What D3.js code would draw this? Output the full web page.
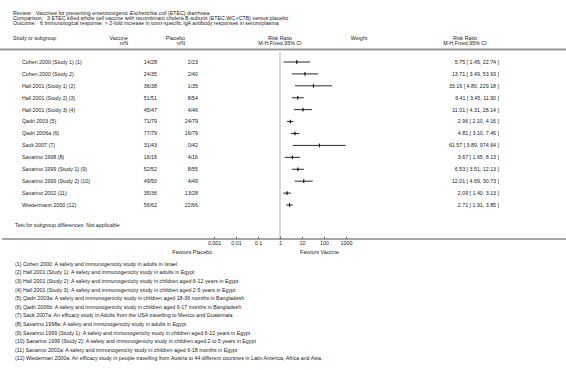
<!DOCTYPE html>
<html>
<head>
<meta charset="utf-8">
<script src="https://cdn.jsdelivr.net/npm/d3@7"></script>
<style>
  html, body { margin: 0; padding: 0; background: #fff; }
  svg { display: block; }
  text { font-family: "Liberation Sans", Arial, Helvetica, sans-serif; font-size: 5.3px; fill: #222; }
</style>
</head>
<body>
<div id="chart"></div>
<script>
// forest plot - ETEC WC-rCTB vs placebo, IgA response

const studies = [
  'Cohen 2000 (Study 1) (1)', 'Cohen 2000 (Study 2)', 'Hall 2001 (Study 1) (2)',
  'Hall 2001 (Study 2) (3)', 'Hall 2001 (Study 3) (4)', 'Qadri 2003 (5)',
  'Qadri 2006a (6)', 'Sack 2007 (7)', 'Savarino 1998 (8)',
  'Savarino 1999 (Study 1) (9)', 'Savarino 1999 (Study 2) (10)',
  'Savarino 2002 (11)', 'Wiedermann 2000 (12)'
];
const vaccineNN = ['14/28', '24/35', '36/38', '51/51', '45/47', '71/79', '77/79',
  '31/43', '16/16', '52/52', '49/50', '35/36', '56/62'];
const placeboNN = ['2/23', '2/40', '1/35', '8/54', '4/46', '24/79', '16/79',
  '0/42', '4/16', '8/55', '4/49', '13/28', '22/66'];
const rr   = [5.75, 13.71, 33.16, 6.41, 11.01, 2.96, 4.81, 61.57, 3.67, 6.53, 12.01, 2.09, 2.71];
const low  = [1.45, 3.49, 4.80, 3.45, 4.31, 2.10, 3.10, 3.89, 1.65, 3.51, 4.69, 1.40, 1.91];
const high = [22.74, 53.93, 229.18, 11.90, 28.14, 4.16, 7.46, 974.64, 8.13, 12.13, 30.73, 3.13, 3.85];
const tickValues = [0.001, 0.01, 0.1, 1, 10, 100, 1000];
const tickLabels = ['0.001', '0.01', '0.1', '1', '10', '100', '1000'];

const titleLines = [
  ['Review:', 'Vaccines for preventing enterotoxigenic ', 'Escherichia coli', ' (ETEC) diarrhoea'],
  ['Comparison:', '3 ETEC killed whole cell vaccine with recombinant cholera B-subunit (ETEC WC-rCTB) versus placebo'],
  ['Outcome:', '6 Immunological response: > 2-fold increase in toxin-specific IgA antibody responses in serum/plasma']
];
const footnotes = [
  '(1) Cohen 2000: A safety and immunogenicity study in adults in Israel',
  '(2) Hall 2001 (Study 1): A safety and immunogenicity study in adults in Egypt',
  '(3) Hall 2001 (Study 2): A safety and immunogenicity study in children aged 6-12 years in Egypt',
  '(4) Hall 2001 (Study 3): A safety and immunogenicity study in children aged 2-5 years in Egypt',
  '(5) Qadri 2003a: A safety and immunogenicity study in children aged 18-36 months in Bangladesh',
  '(6) Qadri 2006b: A safety and immunogenicity study in children aged 6-17 months in Bangladesh',
  '(7) Sack 2007a: An efficacy study in Adults from the USA travelling to Mexico and Guatemala',
  '(8) Savarino 1998a: A safety and immunogenicity study in adults in Egypt',
  '(9) Savarino 1999 (Study 1): A safety and immunogenicity study in children aged 6-12 years in Egypt',
  '(10) Savarino 1999 (Study 2): A safety and immunogenicity study in children aged 2 to 5 years in Egypt',
  '(11) Savarino 2002a: A safety and immunogenicity study in children aged 6-18 months in Egypt',
  '(12) Wiederman 2000a: An efficacy study in people travelling from Austria to 44 different countries in Latin America, Africa and Asia.'
];

const W = 566, H = 370;
const svg = d3.select('#chart').append('svg')
  .attr('width', W).attr('height', H)
  .attr('viewBox', [0, 0, W, H]);

const x = d3.scaleLog().domain([0.001, 1000]).range([214, 346]);
const y = d3.scalePoint().domain(studies).range([62, 205]);
const axisY = 239;

// title block
titleLines.forEach((line, i) => {
  const t = svg.append('text').attr('x', 13).attr('y', 13 + i * 5.2).attr('dy', '0.35em');
  t.append('tspan').text(line[0]);
  t.append('tspan').attr('dx', 4).text(line[1]);
  if (line.length > 2) {
    t.append('tspan').attr('font-style', 'italic').text(line[2]);
    t.append('tspan').text(line[3]);
  }
});

// column headers
const hdr = [
  { x: 13, y: 38, a: 'start', t: 'Study or subgroup' },
  { x: 128, y: 38, a: 'end', t: 'Vaccine' },
  { x: 128, y: 43, a: 'end', t: 'n/N' },
  { x: 185, y: 38, a: 'end', t: 'Placebo' },
  { x: 185, y: 43, a: 'end', t: 'n/N' },
  { x: 280, y: 38, a: 'middle', t: 'Risk Ratio' },
  { x: 280, y: 43, a: 'middle', t: 'M-H,Fixed,95% CI' },
  { x: 359, y: 38, a: 'middle', t: 'Weight' },
  { x: 465, y: 38, a: 'middle', t: 'Risk Ratio' },
  { x: 465, y: 43, a: 'middle', t: 'M-H,Fixed,95% CI' }
];
svg.selectAll('.hdr').data(hdr).join('text')
  .attr('x', d => d.x).attr('y', d => d.y).attr('dy', '0.35em')
  .attr('text-anchor', d => d.a).text(d => d.t);

svg.append('line')
  .attr('x1', 0).attr('x2', W).attr('y1', 49.5).attr('y2', 49.5)
  .attr('stroke', '#9a9a9a').attr('stroke-width', 2);

// line of no effect
svg.append('line')
  .attr('x1', x(1)).attr('x2', x(1)).attr('y1', 52).attr('y2', axisY)
  .attr('stroke', '#d9d9d9').attr('stroke-width', 2);

// study rows
const rows = svg.append('g').selectAll('g').data(studies).join('g')
  .attr('transform', d => `translate(0,${y(d)})`);

rows.append('text').attr('x', 22).attr('dy', '0.35em').text(d => d);
rows.append('text').attr('x', 157).attr('dy', '0.35em').attr('text-anchor', 'end')
  .text((d, i) => vaccineNN[i]);
rows.append('text').attr('x', 198).attr('dy', '0.35em').attr('text-anchor', 'end')
  .text((d, i) => placeboNN[i]);
rows.append('text').attr('x', 499).attr('dy', '0.35em').attr('text-anchor', 'end')
  .text((d, i) => `${rr[i].toFixed(2)} [ ${low[i].toFixed(2)}, ${high[i].toFixed(2)} ]`);

rows.append('line')
  .attr('x1', (d, i) => x(low[i])).attr('x2', (d, i) => x(high[i]))
  .attr('stroke', '#111').attr('stroke-width', 0.9);
rows.append('rect')
  .attr('x', (d, i) => x(rr[i]) - 0.6).attr('y', -1.8)
  .attr('width', 1.2).attr('height', 3.6).attr('fill', '#111');

svg.append('text').attr('x', 15).attr('y', 225).attr('dy', '0.35em')
  .text('Test for subgroup differences: Not applicable');

// axis
svg.append('line')
  .attr('x1', 2).attr('x2', W).attr('y1', axisY).attr('y2', axisY)
  .attr('stroke', '#222').attr('stroke-width', 0.8);

const axis = svg.append('g')
  .attr('transform', `translate(0,${axisY})`)
  .call(d3.axisBottom(x).tickValues(tickValues)
    .tickFormat((d, i) => tickLabels[i])
    .tickSizeInner(-2.5).tickSizeOuter(0).tickPadding(2.5));
axis.select('.domain').remove();
axis.selectAll('.tick line').attr('stroke', '#222').attr('stroke-width', 0.6);
axis.selectAll('.tick text').attr('font-size', '5.3px').attr('fill', '#222')
  .attr('font-family', '"Liberation Sans", Arial, sans-serif');

svg.append('text').attr('x', 212).attr('y', 252).attr('dy', '0.35em')
  .attr('text-anchor', 'end').text('Favours Placebo');
svg.append('text').attr('x', 300).attr('y', 252).attr('dy', '0.35em')
  .text('Favours Vaccine');

// footnotes
svg.selectAll('.fn').data(footnotes).join('text')
  .attr('x', 15).attr('y', (d, i) => 264 + i * 8.6).attr('dy', '0.35em')
  .text(d => d);
</script>
</body>
</html>
